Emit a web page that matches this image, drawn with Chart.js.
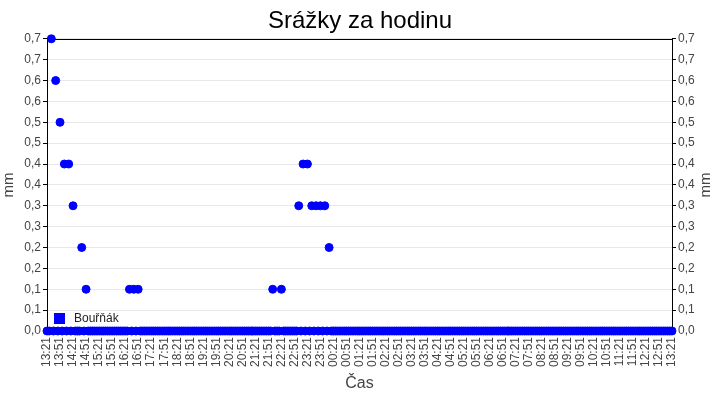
<!DOCTYPE html>
<html>
<head>
<meta charset="utf-8">
<script src="https://cdn.jsdelivr.net/npm/chart.js@4"></script>
<style>
  html, body { margin:0; padding:0; background:#fff; }
  #wrap { width:720px; height:400px; }
</style>
</head>
<body>
<div id="wrap"><canvas id="rainChart" width="720" height="400"></canvas></div>
<script>
// Srážky za hodinu – měření po 5 minutách
const startTime = '13:21';
const stepMinutes = 5;
const pointCount = 289;
const labelEvery = 6;   // popisek osy X každých 30 min

const seriesName = 'Bouřňák';
// jeden řádek = jedna hodina (12 měření)
const rainValues = [
  0, 0, 0.7, 0, 0.6, 0, 0.5, 0, 0.4, 0, 0.4, 0,
  0.3, 0, 0, 0, 0.2, 0, 0.1, 0, 0, 0, 0, 0,
  0, 0, 0, 0, 0, 0, 0, 0, 0, 0, 0, 0,
  0, 0, 0.1, 0, 0.1, 0, 0.1, 0, 0, 0, 0, 0,
  0, 0, 0, 0, 0, 0, 0, 0, 0, 0, 0, 0,
  0, 0, 0, 0, 0, 0, 0, 0, 0, 0, 0, 0,
  0, 0, 0, 0, 0, 0, 0, 0, 0, 0, 0, 0,
  0, 0, 0, 0, 0, 0, 0, 0, 0, 0, 0, 0,
  0, 0, 0, 0, 0, 0, 0, 0, 0.1, 0, 0, 0,
  0.1, 0, 0, 0, 0, 0, 0, 0, 0.3, 0, 0.4, 0,
  0.4, 0, 0.3, 0, 0.3, 0, 0.3, 0, 0.3, 0, 0.2, 0,
  0, 0, 0, 0, 0, 0, 0, 0, 0, 0, 0, 0,
  0, 0, 0, 0, 0, 0, 0, 0, 0, 0, 0, 0,
  0, 0, 0, 0, 0, 0, 0, 0, 0, 0, 0, 0,
  0, 0, 0, 0, 0, 0, 0, 0, 0, 0, 0, 0,
  0, 0, 0, 0, 0, 0, 0, 0, 0, 0, 0, 0,
  0, 0, 0, 0, 0, 0, 0, 0, 0, 0, 0, 0,
  0, 0, 0, 0, 0, 0, 0, 0, 0, 0, 0, 0,
  0, 0, 0, 0, 0, 0, 0, 0, 0, 0, 0, 0,
  0, 0, 0, 0, 0, 0, 0, 0, 0, 0, 0, 0,
  0, 0, 0, 0, 0, 0, 0, 0, 0, 0, 0, 0,
  0, 0, 0, 0, 0, 0, 0, 0, 0, 0, 0, 0,
  0, 0, 0, 0, 0, 0, 0, 0, 0, 0, 0, 0,
  0, 0, 0, 0, 0, 0, 0, 0, 0, 0, 0, 0,
  0
];

const yTickLabels = ['0,0','0,1','0,1','0,2','0,2','0,3','0,3','0,4','0,4','0,5','0,5','0,6','0,6','0,7','0,7'];

// časy měření (kategorie)
const times = [];
(function(){
  const p = startTime.split(':');
  const m = parseInt(p[0],10)*60 + parseInt(p[1],10);
  for (let i = 0; i < pointCount; i++) {
    const t = (m + i*stepMinutes) % 1440;
    times.push(String(Math.floor(t/60)).padStart(2,'0') + ':' + String(t%60).padStart(2,'0'));
  }
})();

const axisGray = '#444';
const font = 'Liberation Sans, Arial, sans-serif';

// rámeček kolem plochy grafu
const frame = {
  id:'frame',
  beforeDatasetsDraw(chart){
    const a = chart.chartArea, c = chart.ctx;
    c.save();
    c.strokeStyle = '#000';
    c.lineWidth = 1;
    c.strokeRect(Math.round(a.left)+0.5, Math.round(a.top)+0.5, Math.round(a.right-a.left), Math.round(a.bottom-a.top));
    c.restore();
  }
};

// legenda uvnitř grafu vlevo dole + popisek pravé osy
const extras = {
  id:'extras',
  afterDraw(chart){
    const a = chart.chartArea, c = chart.ctx;
    const ds = chart.data.datasets[0];
    c.save();
    c.fillStyle = ds.backgroundColor;
    c.fillRect(a.left+7, a.bottom-18, 11, 11);
    c.fillStyle = '#222';
    c.font = '12px ' + font;
    c.textBaseline = 'middle';
    c.fillText(ds.label, a.left+27, a.bottom-12);
    // pravé "mm" otočené stejně jako levé
    c.translate(706, (a.top + a.bottom) / 2);
    c.rotate(-Math.PI/2);
    c.fillStyle = axisGray;
    c.font = '15px ' + font;
    c.textAlign = 'center';
    c.fillText('mm', 0, 0);
    c.restore();
  }
};

const yTicks = {
  stepSize:0.05,
  color:axisGray,
  font:{ family:font, size:12 },
  padding:2,
  callback:(v, i) => yTickLabels[i]
};

new Chart(document.getElementById('rainChart'), {
  type:'line',
  data:{
    labels:times,
    datasets:[{
      label:seriesName,
      data:rainValues,
      showLine:false,
      backgroundColor:'#0000ff',
      borderColor:'#0000ff',
      pointRadius:4,
      pointBorderWidth:1,
      pointHoverRadius:4,
      clip:false,
      yAxisID:'y'
    }]
  },
  options:{
    responsive:false,
    animation:false,
    devicePixelRatio:1,
    layout:{ padding:0 },
    plugins:{
      legend:{ display:false },
      tooltip:{ enabled:false },
      title:{
        display:true,
        text:'Srážky za hodinu',
        color:'#000',
        font:{ family:font, size:24, weight:'normal', lineHeight:1.2 },
        padding:{ top:7, bottom:3 }
      }
    },
    scales:{
      x:{
        type:'category',
        offset:false,
        grid:{ drawOnChartArea:false, tickColor:'#000', tickLength:4 },
        border:{ color:'#000' },
        ticks:{
          autoSkip:false,
          maxRotation:90,
          minRotation:90,
          padding:2,
          color:axisGray,
          font:{ family:font, size:12 },
          callback:(v, i) => (i % labelEvery === 0 ? times[i] : null)
        },
        title:{ display:true, text:'Čas', color:axisGray, font:{ family:font, size:16 }, padding:{ top:0, bottom:7 } },
        afterFit(s){ s.height = 69; }
      },
      y:{
        position:'left',
        min:0, max:0.7,
        grid:{ color:'#e8e8e8', tickColor:'#000', tickLength:4 },
        border:{ color:'#000' },
        ticks:yTicks,
        title:{ display:true, text:'mm', color:axisGray, font:{ family:font, size:15 }, padding:0 },
        afterFit(s){ s.width = 47; }
      },
      y2:{
        position:'right',
        min:0, max:0.7,
        grid:{ drawOnChartArea:false, tickColor:'#000', tickLength:4 },
        border:{ color:'#000' },
        ticks:yTicks,
        afterFit(s){ s.width = 48; }
      }
    }
  },
  plugins:[frame, extras]
});
</script>
</body>
</html>
